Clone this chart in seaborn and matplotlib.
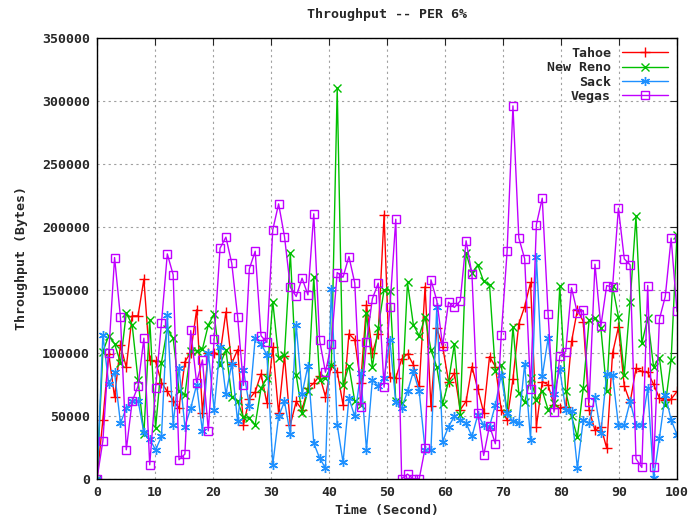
import numpy as np
import pandas as pd
import matplotlib
matplotlib.use('Agg')
import matplotlib.pyplot as plt
import seaborn as sns

# Throughput per second (bytes)
tahoe = [0, 46800, 99200, 64800, 105800, 88600, 129300, 129300, 158400, 93900,
         93100, 76400, 69300, 62100, 56100, 92900, 100200, 134100, 52600, 100000,
         100000, 98800, 132400, 91500, 102600, 42800, 63500, 69000, 83300, 60000,
         104400, 52000, 97600, 42800, 61400, 54800, 71900, 75900, 81700, 65300,
         90000, 84900, 58700, 115000, 110300, 75900, 138100, 100000, 115000, 209400,
         80400, 80000, 95000, 99200, 90500, 73300, 152600, 57400, 119600, 105000,
         77200, 83800, 54800, 61400, 89100, 71100, 52600, 97000, 89100, 54800,
         46800, 79100, 123000, 136700, 155800, 41500, 77200, 74600, 58700, 56100,
         57000, 109000, 134100, 124800, 54800, 38400, 41500, 24300, 99700, 120300,
         73800, 60600, 87800, 85200, 84400, 75000, 64000, 62700, 63200, 69300]

new_reno = [0, 101000, 113500, 107100, 92300, 131500, 122200, 78600, 35400, 126200,
            40200, 92300, 118800, 111600, 70000, 66700, 101800, 101600, 103000, 122200,
            130900, 90500, 102400, 65300, 61400, 48700, 48100, 42800, 71900, 80000,
            140700, 95800, 98400, 179100, 82500, 52100, 70000, 160000, 78600, 80000,
            90000, 310000, 74600, 89700, 61400, 58700, 131500, 88600, 120000, 150000,
            149400, 61400, 60000, 155800, 122200, 113500, 128300, 102400, 88800, 59500,
            77200, 106900, 50800, 179100, 163200, 169800, 156600, 153900, 85200, 90500,
            52100, 120800, 67900, 60600, 79900, 62700, 70000, 54800, 60000, 153100,
            69300, 49500, 33000, 71900, 126200, 127500, 120000, 69300, 153100, 128600,
            82500, 140700, 208200, 107400, 127500, 88800, 96100, 58700, 94400, 193600]

sack = [0, 114300, 75400, 84400, 44200, 56100, 61400, 62100, 36800, 31500,
        23000, 33600, 130100, 42800, 87800, 41500, 56100, 74600, 37600, 100200,
        54800, 105000, 67200, 91300, 45500, 86500, 57900, 111600, 107100, 98400,
        11100, 49500, 61400, 35400, 122200, 67400, 89700, 28300, 16400, 8500,
        150500, 42800, 13000, 64000, 49500, 83800, 23000, 78600, 73300, 79900,
        109800, 60600, 56100, 69300, 85200, 69300, 23000, 23000, 136700, 29600,
        41500, 49500, 46800, 44200, 33600, 50800, 42800, 41500, 58700, 82500,
        52100, 45500, 44200, 91300, 30900, 176400, 81200, 111600, 67400, 87000,
        54800, 54000, 8500, 46800, 44200, 65300, 36200, 83300, 82500, 42800,
        42800, 61400, 42800, 42800, 71900, 500, 32300, 66700, 46800, 34900]

vegas = [0, 30150, 100000, 175600, 128300, 23000, 61400, 73500, 111600, 11100,
         71900, 123500, 178500, 161900, 15100, 19600, 117700, 76400, 94400, 38100,
         111100, 183000, 191800, 171100, 128800, 74100, 166600, 180600, 113500, 108200,
         197600, 218200, 192300, 152000, 144700, 159200, 146000, 210300, 109800, 84600,
         106900, 163700, 160000, 176400, 155300, 56900, 108400, 142800, 155300, 72700,
         136700, 206000, 0, 3700, 0, 0, 24300, 157900, 141500, 105500,
         140200, 136000, 141200, 188900, 162400, 52000, 18500, 42100, 27800, 114000,
         180400, 296000, 191200, 174600, 71100, 201800, 222700, 130700, 52900, 97600,
         101000, 151600, 131500, 133600, 60600, 170300, 120900, 153400, 152100, 214800,
         174600, 169800, 15900, 9000, 153400, 9000, 126700, 144700, 191000, 132800]

series = {'Tahoe': tahoe, 'New Reno': new_reno, 'Sack': sack, 'Vegas': vegas}
colors = {'Tahoe': '#ff0000', 'New Reno': '#00c000', 'Sack': '#1e90ff', 'Vegas': '#c000ff'}
markers = {'Tahoe': '+', 'New Reno': 'x', 'Sack': (6, 2, 0), 'Vegas': 's'}
sizes = {'Tahoe': 7, 'New Reno': 5.5, 'Sack': 6.5, 'Vegas': 5.5}

font = 'DejaVu Sans Mono'

sns.set_style('white')
plt.rcParams['font.family'] = [font]
plt.rcParams['font.weight'] = 'bold'

fig = plt.figure(figsize=(6.88, 5.25), dpi=100)
ax = fig.add_axes([0.141, 0.088, 0.843, 0.84])

for name, vals in series.items():
    df = pd.DataFrame({'Time': np.linspace(0, 100, len(vals)), 'Throughput': vals})
    sns.lineplot(data=df, x='Time', y='Throughput', ax=ax, label=name,
                 color=colors[name], marker=markers[name], markersize=sizes[name],
                 markerfacecolor='none', markeredgecolor=colors[name],
                 markeredgewidth=1.0, linewidth=1.0)

ax.set_xlim(0, 100)
ax.set_ylim(0, 350000)
ax.set_xticks(range(0, 101, 10))
ax.set_yticks(range(0, 350001, 50000))
ax.tick_params(direction='in', top=True, right=True, length=5, labelsize=9.5, pad=5)
for lab in ax.get_xticklabels() + ax.get_yticklabels():
    lab.set_fontweight('bold')
ax.grid(True, color='#a0a0a0', linestyle=(0, (2, 3)), linewidth=0.8)
for sp in ax.spines.values():
    sp.set_color('black')
    sp.set_linewidth(1.0)

ax.set_title('Throughput -- PER 6%', fontsize=9.5, fontweight='bold', pad=14)
ax.set_xlabel('Time (Second)', fontsize=9.5, fontweight='bold', labelpad=4)
ax.set_ylabel('Throughput (Bytes)', fontsize=9.5, fontweight='bold', labelpad=10)

leg = ax.legend(loc='upper right', frameon=False, markerfirst=False,
                handlelength=3.5, labelspacing=0.1, borderaxespad=0.3,
                prop={'family': font, 'weight': 'bold', 'size': 9.5})

fig.savefig('out.png', dpi=100)
